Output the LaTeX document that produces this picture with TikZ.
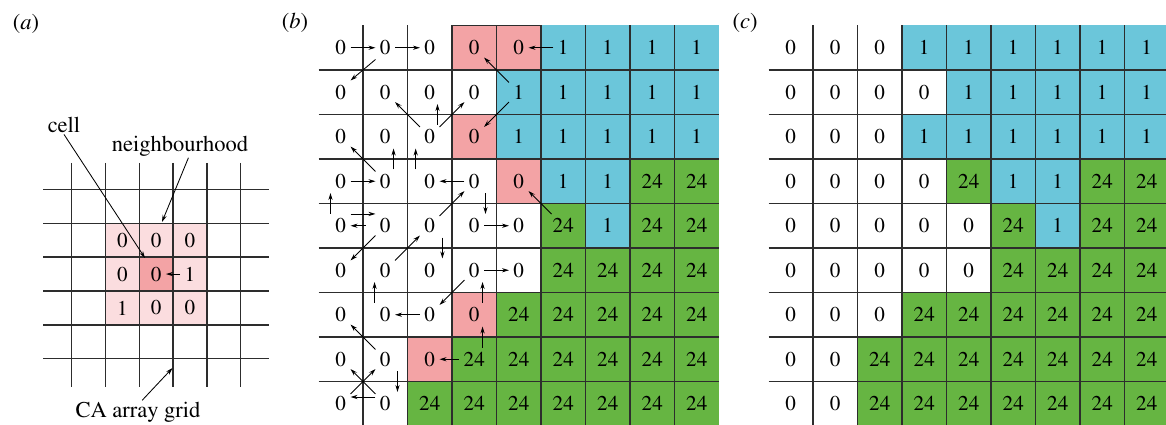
\documentclass[tikz,border=0pt]{standalone}
\usepackage[T1]{fontenc}
\renewcommand{\rmdefault}{ptm}
\usepackage{xcolor}
\usepackage{tikz}
\usetikzlibrary{
arrows.meta,
positioning,
calc
}
\definecolor{statepink}{RGB}{243,163,165}
\definecolor{nbpink}{RGB}{251,221,223}
\definecolor{stateblue}{RGB}{107,198,218}
\definecolor{stategreen}{RGB}{102,181,66}
\definecolor{gridgray}{RGB}{45,45,45}

\begin{document}
\begin{tikzpicture}[x=0.025cm, y=-0.025cm,
  val/.style={font=\fontsize{15}{18}\selectfont, inner sep=3pt},
  lbl/.style={font=\fontsize{16}{19}\selectfont, inner sep=1pt},
  panel/.style={font=\fontsize{16}{19}\selectfont},
  gridline/.style={draw=gridgray, line width=0.9pt},
  flow/.style={-{Stealth[length=5pt,width=3pt]}, line width=0.6pt},
  pointer/.style={-{Stealth[length=5pt,width=3pt]}, line width=0.6pt},
  cellw/.style={fill=white},
  cellp/.style={fill=statepink, draw=gridgray, line width=0.9pt},
  cellb/.style={fill=stateblue},
  cellg/.style={fill=stategreen}
]
\useasboundingbox (0,0) rectangle (1166,425);

%% Panel labels
\node[panel] (lbla) at (26,24) {(\textit{a})};
\node[panel] (lblb) at (295,23) {(\textit{b})};
\node[panel] (lblc) at (745,23) {(\textit{c})};

%% Panel (a): CA grid with one neighbourhood
\fill[nbpink] (105.5,223.3) rectangle (206.9,325);
\fill[statepink] (139.3,257.2) rectangle (173.1,291.1);
\foreach \k in {0,...,5} {
  \draw[gridline] (71.7+33.8*\k, 163) -- (71.7+33.8*\k, 387);
  \draw[gridline] (43, 189.3+33.9*\k) -- (269, 189.3+33.9*\k);
}
\foreach \rowvals [count=\r] in {{0,0,0},{0,0,1},{1,0,0}}
  \foreach \v [count=\c] in \rowvals
    \node[val] (a-\r-\c) at (71.7+33.8*\c+16.9, 189.3+33.9*\r+16.95) {\v};
\draw[flow] (a-2-3) -- (a-2-2);

\node[lbl] (celltxt) at (64,125) {cell};
\node[lbl] (nbtxt) at (180,146) {neighbourhood};
\node[lbl] (gridtxt) at (138,412) {CA array grid};
\coordinate (cellpt) at (145,258);
\coordinate (nbpt) at (162,222);
\coordinate (gridpt) at (172.5,368);
\draw[pointer] (celltxt.south) -- (cellpt);
\draw[pointer] ([xshift=6pt]nbtxt.south) -- (nbpt);
\draw[pointer] ([xshift=3pt]gridtxt.north) -- (gridpt);

%% Panel (b): states with update arrows
\foreach \rowvals [count=\r] in {
  {0/w,0/w,0/w,0/p,0/p,1/b,1/b,1/b,1/b},
  {0/w,0/w,0/w,0/w,1/b,1/b,1/b,1/b,1/b},
  {0/w,0/w,0/w,0/p,1/b,1/b,1/b,1/b,1/b},
  {0/w,0/w,0/w,0/w,0/p,1/b,1/b,24/g,24/g},
  {0/w,0/w,0/w,0/w,0/w,24/g,1/b,24/g,24/g},
  {0/w,0/w,0/w,0/w,0/w,24/g,24/g,24/g,24/g},
  {0/w,0/w,0/w,0/p,24/g,24/g,24/g,24/g,24/g},
  {0/w,0/w,0/p,24/g,24/g,24/g,24/g,24/g,24/g},
  {0/w,0/w,24/g,24/g,24/g,24/g,24/g,24/g,24/g}}
  \foreach \v/\s [count=\c] in \rowvals {
    \path[cell\s] (318.5+44.5*\c-44.5, 25.5+44.5*\r-44.5) rectangle ++(44.5,44.5);
    \node[val] (b-\r-\c) at (318.5+44.5*\c-22.25, 25.5+44.5*\r-22.25) {\v};
  }
\foreach \k in {1,...,8} {
  \draw[gridline] (318.5+44.5*\k, 25.5) -- (318.5+44.5*\k, 426);
  \draw[gridline] (318.5, 25.5+44.5*\k) -- (719, 25.5+44.5*\k);
}

%% Update arrows between neighbouring cells
\draw[flow] (b-1-1) -- (b-1-2);
\draw[flow] (b-1-2) -- (b-1-3);
\draw[flow] (b-1-6) -- (b-1-5);
\draw[flow] (b-1-2.south west) -- (b-2-1.north east);
\draw[flow] (b-2-5) -- (b-1-4);
\draw[flow] (b-3-3) -- (b-2-2);
\draw[flow] ([xshift=5.5pt]b-3-3.north) -- ([xshift=5.5pt]b-2-3.south);
\draw[flow] (b-3-3) -- (b-2-4);
\draw[flow] (b-2-5) -- (b-3-4);
\draw[flow] (b-4-2) -- (b-3-1);
\draw[flow] ([xshift=5.9pt]b-4-2.north) -- ([xshift=5.9pt]b-3-2.south);
\draw[flow] ([xshift=-10pt]b-4-3.north) -- ([xshift=-10pt]b-3-3.south);
\draw[flow] (b-4-1) -- (b-4-2);
\draw[flow] (b-4-4) -- (b-4-3);
\draw[flow] ([xshift=-7.3pt]b-5-1.north) -- ([xshift=-7.3pt]b-4-1.south);
\draw[flow] (b-5-6) -- (b-4-5);
\draw[flow] (b-5-3) -- (b-4-4);
\draw[flow] ([xshift=8pt]b-4-4.south) -- ([xshift=8pt]b-5-4.north);
\draw[flow] ([yshift=8.4pt]b-5-1.east) -- ([yshift=8.4pt]b-5-2.west);
\draw[flow, shorten <=7pt] (b-5-2) -- (b-5-1);
\draw[flow] (b-5-4) -- (b-5-5);
\draw[flow] (b-5-2) -- (b-6-1);
\draw[flow] (b-6-2) -- (b-5-3);
\draw[flow] ([xshift=9pt]b-5-3.south) -- ([xshift=9pt]b-6-3.north);
\draw[flow] (b-6-4) -- (b-6-5);
\draw[flow] ([xshift=-7.6pt]b-7-2.north) -- ([xshift=-7.6pt]b-6-2.south);
\draw[flow] (b-6-4) -- (b-7-3);
\draw[flow] ([xshift=5.9pt]b-7-4.north) -- ([xshift=5.9pt]b-6-4.south);
\draw[flow] (b-7-3) -- (b-7-2);
\draw[flow] ([xshift=5.9pt]b-8-4.north) -- ([xshift=5.9pt]b-7-4.south);
\draw[flow] (b-8-4) -- (b-8-3);
\draw[flow] (b-8-2) -- (b-7-1);
\draw[flow] (b-9-2) -- (b-8-1);
\draw[flow] (b-9-1) -- (b-8-2);
\draw[flow] ([xshift=8.7pt]b-8-2.south) -- ([xshift=8.7pt]b-9-2.north);
\draw[flow] ([yshift=4.8pt]b-9-2.west) -- ([yshift=4.8pt]b-9-1.east);

%% Panel (c): states after the update
\foreach \rowvals [count=\r] in {
  {0/w,0/w,0/w,1/b,1/b,1/b,1/b,1/b,1/b},
  {0/w,0/w,0/w,0/w,1/b,1/b,1/b,1/b,1/b},
  {0/w,0/w,0/w,1/b,1/b,1/b,1/b,1/b,1/b},
  {0/w,0/w,0/w,0/w,24/g,1/b,1/b,24/g,24/g},
  {0/w,0/w,0/w,0/w,0/w,24/g,1/b,24/g,24/g},
  {0/w,0/w,0/w,0/w,0/w,24/g,24/g,24/g,24/g},
  {0/w,0/w,0/w,24/g,24/g,24/g,24/g,24/g,24/g},
  {0/w,0/w,24/g,24/g,24/g,24/g,24/g,24/g,24/g},
  {0/w,0/w,24/g,24/g,24/g,24/g,24/g,24/g,24/g}}
  \foreach \v/\s [count=\c] in \rowvals {
    \path[cell\s] (768.5+44.5*\c-44.5, 25.5+44.5*\r-44.5) rectangle ++(44.5,44.5);
    \node[val] (c-\r-\c) at (768.5+44.5*\c-22.25, 25.5+44.5*\r-22.25) {\v};
  }
\foreach \k in {1,...,8} {
  \draw[gridline] (768.5+44.5*\k, 25.5) -- (768.5+44.5*\k, 426);
  \draw[gridline] (768.5, 25.5+44.5*\k) -- (1169, 25.5+44.5*\k);
}

\end{tikzpicture}
\end{document}
